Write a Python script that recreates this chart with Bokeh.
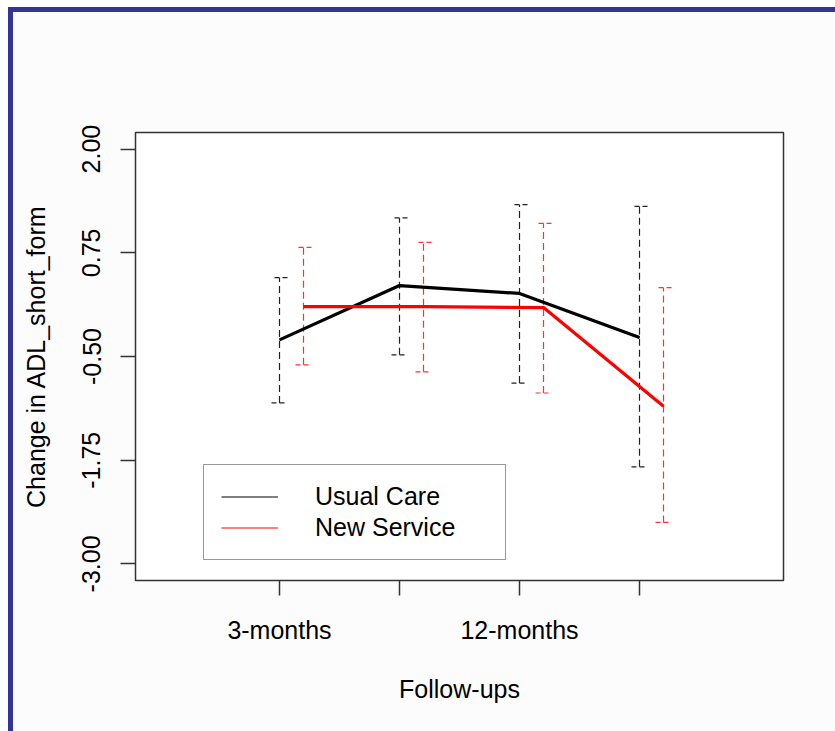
from bokeh.plotting import figure
from bokeh.layouts import column, row
from bokeh.models import (ColumnDataSource, Whisker, TeeHead, FixedTicker, Legend,
                          LegendItem, Range1d, NumeralTickFormatter, Div, Spacer)
from bokeh.embed import file_html
from bokeh.resources import INLINE

# ---- data ----
followup_pos = [1, 2, 3, 4]
followup_labels = ["3-months", "", "12-months", ""]
group_offset = 0.2

usual_mean = [-0.30, 0.355, 0.26, -0.27]
usual_lower = [-1.06, -0.48, -0.82, -1.83]
usual_upper = [0.45, 1.17, 1.33, 1.31]

new_mean = [0.10, 0.10, 0.09, -1.10]
new_lower = [-0.60, -0.685, -0.94, -2.50]
new_upper = [0.815, 0.875, 1.105, 0.33]

y_ticks = [-3.0, -1.75, -0.5, 0.75, 2.0]

FONT = "Liberation Sans"
FS = "25px"
BLUE = "#333399"

new_pos = [x + group_offset for x in followup_pos]
usual_src = ColumnDataSource(dict(x=followup_pos, mean=usual_mean, lower=usual_lower, upper=usual_upper))
new_src = ColumnDataSource(dict(x=new_pos, mean=new_mean, lower=new_lower, upper=new_upper))

# figure sits at page (13, 12)
p = figure(width=822, height=719, output_backend="svg", toolbar_location=None,
           x_range=Range1d(-0.2, 5.2), y_range=Range1d(-3.2, 2.2),
           min_border_left=122, min_border_right=52, min_border_top=120, min_border_bottom=151)
p.background_fill_color = "white"
p.border_fill_color = "#fcfcfc"
p.outline_line_color = "#333333"
p.outline_line_width = 1.5
p.grid.visible = False

for ax in (p.xaxis[0], p.yaxis[0]):
    ax.axis_line_color = None
    ax.major_tick_out = 15
    ax.major_tick_in = 0
    ax.major_tick_line_color = "#333333"
    ax.major_tick_line_width = 1.5
    ax.minor_tick_line_color = None
    ax.major_label_text_font = FONT
    ax.major_label_text_font_size = FS
    ax.major_label_text_color = "black"
    ax.axis_label_text_font = FONT
    ax.axis_label_text_font_size = FS
    ax.axis_label_text_font_style = "normal"
    ax.axis_label_text_color = "black"

p.xaxis.ticker = FixedTicker(ticks=followup_pos)
p.xaxis.major_label_overrides = dict(zip(followup_pos, followup_labels))
p.xaxis.axis_label = "Follow-ups"
p.xaxis.major_label_standoff = 20
p.xaxis.axis_label_standoff = 28

p.yaxis.ticker = FixedTicker(ticks=y_ticks)
p.yaxis.formatter = NumeralTickFormatter(format="0.00")
p.yaxis.major_label_orientation = "vertical"
p.yaxis.axis_label = "Change in ADL_short_form"
p.yaxis.major_label_standoff = 20
p.yaxis.axis_label_standoff = 30

# thin lines used as legend glyphs (hidden under thick lines)
thin_usual = p.line("x", "mean", source=usual_src, line_color="black", line_width=1)
thin_new = p.line("x", "mean", source=new_src, line_color="red", line_width=1)

p.line("x", "mean", source=usual_src, line_color="black", line_width=3.2)
p.line("x", "mean", source=new_src, line_color="red", line_width=3.2)

for src, col in ((usual_src, "#222222"), (new_src, "#ff3030")):
    p.add_layout(Whisker(source=src, base="x", upper="upper", lower="lower", dimension="height",
                         line_color=col, line_width=1.2, line_dash="7 4",
                         upper_head=TeeHead(size=16, line_color=col, line_width=1.2, line_dash="5 3"),
                         lower_head=TeeHead(size=16, line_color=col, line_width=1.2, line_dash="5 3")))

legend = Legend(items=[LegendItem(label="Usual Care", renderers=[thin_usual]),
                       LegendItem(label="New Service", renderers=[thin_new])],
                location=(68, 20), padding=17, spacing=2,
                glyph_width=57, glyph_height=29, label_height=29,
                label_standoff=37, label_width=173,
                border_line_color="#333333", border_line_width=1.5,
                background_fill_color="white", background_fill_alpha=1.0,
                label_text_font=FONT, label_text_font_size=FS, label_text_color="black")
p.add_layout(legend)

# slide frame: blue bands on top and left
top_band = Div(text="", width=827, height=5, margin=0, styles={"background-color": BLUE})
left_band = Div(text="", width=5, height=719, margin=0, styles={"background-color": BLUE})

layout = column(
    Spacer(width=835, height=7, margin=0),
    row(Spacer(width=8, height=5, margin=0), top_band, spacing=0),
    row(Spacer(width=8, height=719, margin=0), left_band, p, spacing=0),
    spacing=0,
)

open("out.html", "w").write(file_html(layout, INLINE))
